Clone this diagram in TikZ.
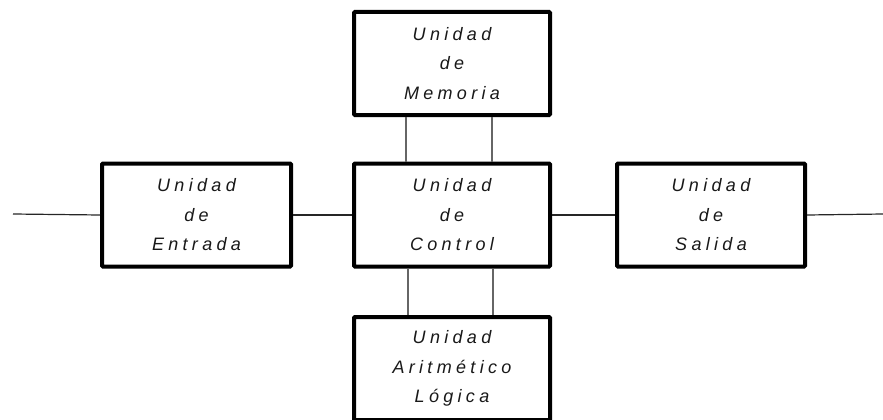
\documentclass[tikz,border=0pt]{standalone}
\usepackage{fontspec}
\setmainfont{Liberation Sans}
\newfontfamily\unitfont[LetterSpace=24]{Liberation Sans}
\begin{document}
\begin{tikzpicture}[x=1pt,y=-1pt,
  unit/.style={draw=black, line width=4pt, rounded corners=1pt, fill=white,
    inner sep=0pt, align=center, minimum width=#1, minimum height=103pt,
    font=\unitfont\itshape\fontsize{18}{29.5}\selectfont, text=black!90},
  unit/.default=196pt,
  hconn/.style={draw=black!85, line width=1.2pt},
  vconn/.style={draw=black!60, line width=1.6pt}]
\useasboundingbox (0,0) rectangle (883,420);
% processing units
\node[unit] (mem) at (452,63.5) {Unidad\\de\\Memoria};
\node[unit] (ctl) at (452,215) {Unidad\\de\\Control};
\node[unit=189pt] (inp) at (196.5,215) {Unidad\\de\\Entrada};
\node[unit=188pt] (out) at (711,215) {Unidad\\de\\Salida};
\node[unit] (alu) at (452,368.5) {Unidad\\Aritmético\\Lógica};
% free ends of the data path
\coordinate (src) at (13,214);
\coordinate (dst) at (883,214);
% horizontal data path
\draw[hconn] (src) -- (inp.west);
\draw[hconn] (inp.east) -- (ctl.west);
\draw[hconn] (ctl.east) -- (out.west);
\draw[hconn] (out.east) -- (dst);
% memory and ALU buses
\draw[vconn] ([xshift=-46pt]mem.south) -- ([xshift=-46pt]ctl.north);
\draw[vconn] ([xshift=40pt]mem.south) -- ([xshift=40pt]ctl.north);
\draw[vconn] ([xshift=-44pt]ctl.south) -- ([xshift=-44pt]alu.north);
\draw[vconn] ([xshift=41pt]ctl.south) -- ([xshift=41pt]alu.north);
\end{tikzpicture}
\end{document}
